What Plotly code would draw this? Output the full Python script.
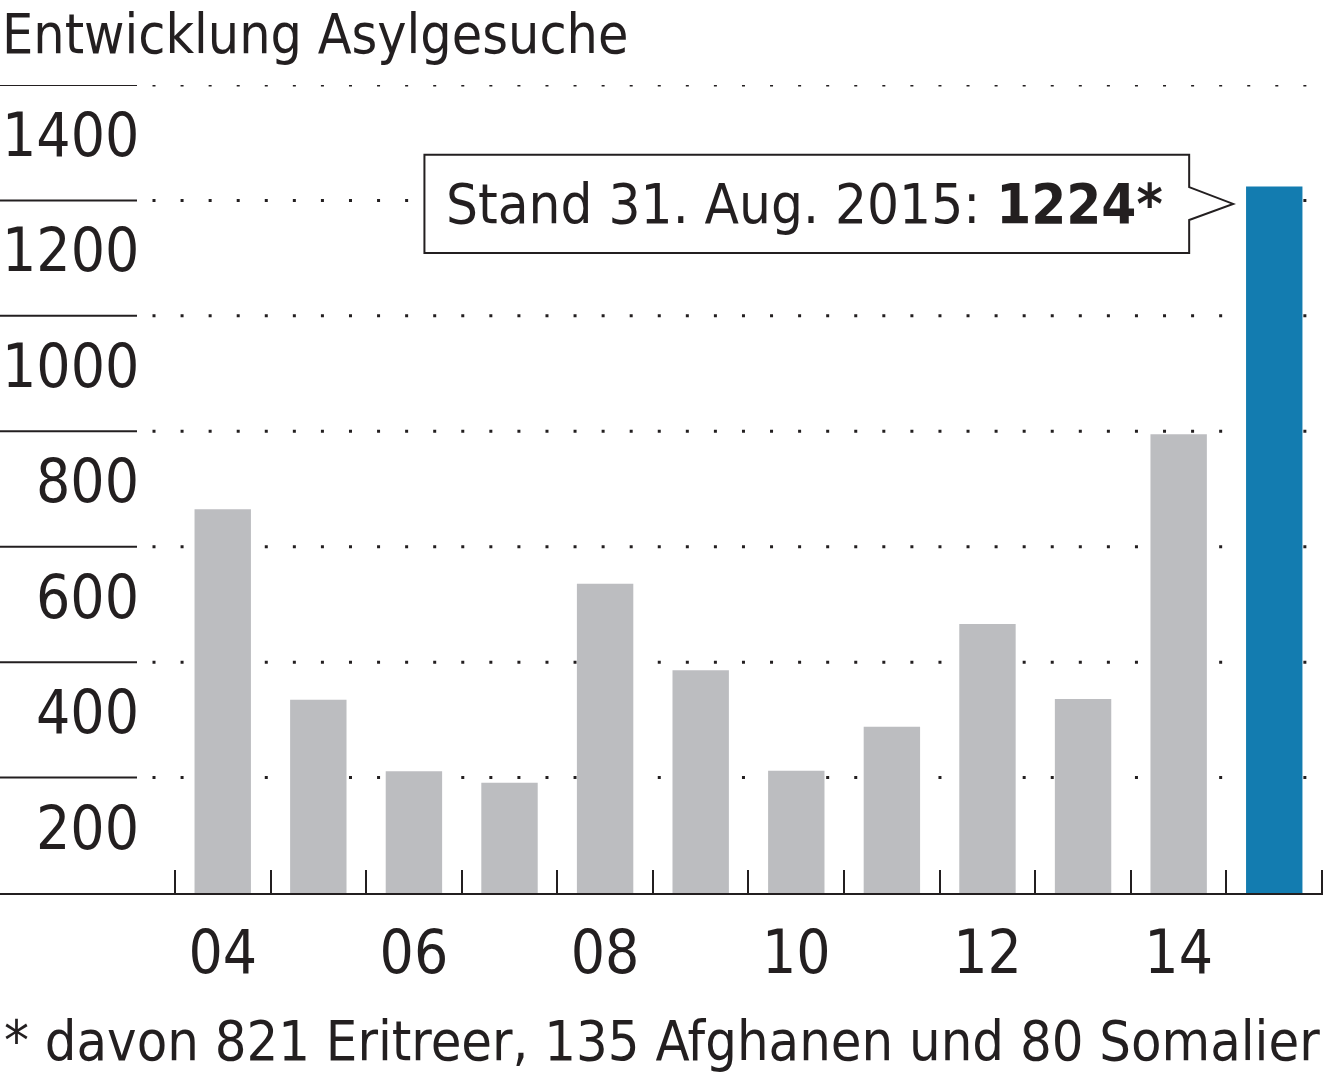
import plotly.graph_objects as go

# ---------------- data ----------------
years = [2004, 2005, 2006, 2007, 2008, 2009, 2010, 2011, 2012, 2013, 2014, 2015]
asylum_requests = [665, 335, 211, 191, 536, 386, 212, 288, 466, 336, 795, 1224]
highlight_year = 2015
y_tick_values = [200, 400, 600, 800, 1000, 1200, 1400]
y_tick_labels = ["200", "400", "600", "800", "1000", "1200", "1400"]
x_label_years = [2004, 2006, 2008, 2010, 2012, 2014]
x_tick_labels = ["04", "06", "08", "10", "12", "14"]
year_boundaries = [2003.5, 2004.5, 2005.5, 2006.5, 2007.5, 2008.5, 2009.5,
                   2010.5, 2011.5, 2012.5, 2013.5, 2014.5, 2015.5]
title_text = "Entwicklung Asylgesuche"
callout_prefix = "Stand 31. Aug. 2015: "
callout_value = "1224*"
footnote_text = "* davon 821 Eritreer, 135 Afghanen und 80 Somalier"

# ---------------- styles ----------------
W, H = 1335, 1085
ML, MR, MT, MB = 0, 12, 85, 192
PW, PH = W - ML - MR, H - MT - MB
INK = "#231f20"
GRAY = "#bcbdc0"
BLUE = "#137cb0"
FONT = "Liberation Sans Narrow, Arial Narrow, DejaVu Sans Condensed, sans-serif"
X_RANGE = [2001.67, 2015.51]
Y_RANGE = [0, 1400]


def px_x(p):
    return (p - ML) / PW


def px_y(p):
    return (H - MB - p) / PH


colors = [BLUE if y == highlight_year else GRAY for y in years]

fig = go.Figure()
fig.add_trace(go.Bar(
    x=years, y=asylum_requests, marker=dict(color=colors, line=dict(width=0)),
    width=0.59, hoverinfo="x+y", showlegend=False,
))

shapes = []
annotations = []
for v, lab in zip(y_tick_values, y_tick_labels):
    shapes.append(dict(type="line", xref="paper", yref="y", x0=px_x(0), x1=px_x(137),
                       y0=v, y1=v, line=dict(color=INK, width=2), layer="above"))
    shapes.append(dict(type="line", xref="paper", yref="y", x0=px_x(152.5), x1=px_x(1307),
                       y0=v, y1=v, line=dict(color=INK, width=3, dash="3px,25.07px"),
                       layer="below"))
    annotations.append(dict(xref="paper", yref="y", x=px_x(141), y=v, text=lab,
                            xanchor="right", yanchor="top", showarrow=False, yshift=-13,
                            font=dict(family=FONT, size=60, color=INK)))

# callout box with pointer, anchored to highlighted bar
hx = highlight_year
hv = asylum_requests[years.index(highlight_year)]
tip_x = hx - 0.43
box_r = tip_x - 0.46
box_l = hx - 8.89
box_t = hv + 55
box_b = hv - 115
notch_t = hv - 1
notch_b = hv - 58
tip_y = hv - 30
path = (f"M {box_l},{box_t} L {box_r},{box_t} L {box_r},{notch_t} L {tip_x},{tip_y} "
        f"L {box_r},{notch_b} L {box_r},{box_b} L {box_l},{box_b} Z")
shapes.append(dict(type="path", xref="x", yref="y", path=path,
                   line=dict(color=INK, width=2), fillcolor="white", layer="above"))
annotations.append(dict(xref="x", yref="y", x=(box_l + box_r) / 2 - 0.02, y=tip_y,
                        text=f"{callout_prefix}<b>{callout_value}</b>", showarrow=False,
                        xanchor="center", yanchor="middle",
                        font=dict(family=FONT, size=56, color=INK)))

# title and footnote
annotations.append(dict(xref="paper", yref="paper", x=px_x(0), y=px_y(0), text=title_text,
                        xanchor="left", yanchor="top", showarrow=False,
                        font=dict(family=FONT, size=55, color=INK)))
annotations.append(dict(xref="paper", yref="paper", x=px_x(2), y=px_y(1040), text=footnote_text,
                        xanchor="left", yanchor="middle", showarrow=False,
                        font=dict(family=FONT, size=55.5, color=INK)))

fig.update_layout(
    width=W, height=H,
    margin=dict(l=ML, r=MR, t=MT, b=MB, pad=0),
    paper_bgcolor="white", plot_bgcolor="white",
    shapes=shapes, annotations=annotations,
    xaxis=dict(
        range=X_RANGE, showgrid=False, zeroline=False,
        showline=True, linecolor=INK, linewidth=2,
        tickmode="array", tickvals=x_label_years, ticktext=x_tick_labels,
        ticks="", ticklabelstandoff=6,
        tickfont=dict(family=FONT, size=60, color=INK),
        minor=dict(tickmode="array", tickvals=year_boundaries, ticks="inside",
                   ticklen=23, tickwidth=2, tickcolor=INK, showgrid=False),
        fixedrange=True,
    ),
    yaxis=dict(range=Y_RANGE, showgrid=False, zeroline=False, showticklabels=False,
               ticks="", showline=False, fixedrange=True),
    bargap=0.4,
)

fig.write_html(
    "out.html",
    config={"displayModeBar": False},
    post_script="document.body.style.margin='0';document.body.style.padding='0';",
)
